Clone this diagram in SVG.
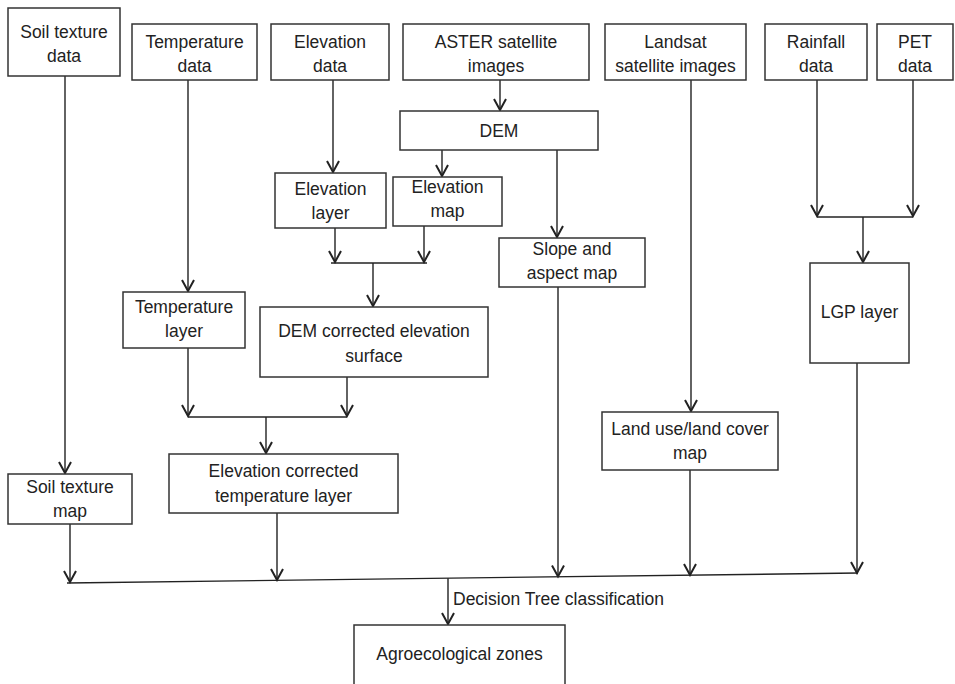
<svg xmlns="http://www.w3.org/2000/svg" width="955" height="684" viewBox="0 0 955 684">
<defs>
<marker id="ah" markerUnits="userSpaceOnUse" markerWidth="16" markerHeight="16" viewBox="-14 -8 16 16" refX="0" refY="0" orient="auto">
<path d="M-11,-6 L0,0 L-11,6" fill="none" stroke="#222" stroke-width="2"/>
</marker>
<style>
rect{fill:#fff;stroke:#333;stroke-width:1.5}
text{font-family:"Liberation Sans",Arial,sans-serif;font-size:17.5px;fill:#222;text-anchor:middle}
.c line,.c polyline{stroke:#222;stroke-width:1.4;fill:none}
.a{marker-end:url(#ah)}
</style>
</defs>
<rect x="0" y="0" width="955" height="684" style="fill:#fff;stroke:none"/>
<g class="c" id="connectors">
<line class="a" x1="65" y1="76" x2="65" y2="473"/>
<line class="a" x1="188" y1="80" x2="188" y2="291"/>
<line class="a" x1="333" y1="80" x2="333" y2="172"/>
<line class="a" x1="500" y1="80" x2="500" y2="110"/>
<line class="a" x1="442" y1="150" x2="442" y2="176"/>
<line class="a" x1="557" y1="150" x2="557" y2="237"/>
<line class="a" x1="335" y1="228" x2="335" y2="262"/>
<line class="a" x1="424" y1="226" x2="424" y2="262"/>
<line x1="331" y1="263" x2="427" y2="263"/>
<line class="a" x1="373" y1="263" x2="373" y2="306"/>
<line class="a" x1="188" y1="348" x2="188" y2="416"/>
<line class="a" x1="347" y1="377" x2="347" y2="416"/>
<line x1="188" y1="417" x2="347" y2="417"/>
<line class="a" x1="266" y1="417" x2="266" y2="453"/>
<line class="a" x1="691" y1="80" x2="691" y2="411"/>
<line class="a" x1="817" y1="80" x2="817" y2="216"/>
<line class="a" x1="913" y1="80" x2="913" y2="216"/>
<line x1="817" y1="217" x2="913" y2="217"/>
<line class="a" x1="863" y1="217" x2="863" y2="262"/>
<line class="a" x1="70" y1="524" x2="70" y2="582"/>
<line class="a" x1="277" y1="513" x2="277" y2="580"/>
<line class="a" x1="558" y1="287" x2="558" y2="576.5"/>
<line class="a" x1="690" y1="470" x2="690" y2="575"/>
<line class="a" x1="857" y1="363" x2="857" y2="573"/>
<line x1="67" y1="583" x2="858" y2="573"/>
<line class="a" x1="448" y1="578.2" x2="448" y2="624"/>
</g>
<g id="soil-texture-data"><rect x="8" y="8" width="112" height="68"/><text x="64" y="38">Soil texture</text><text x="64" y="62">data</text></g>
<g id="temperature-data"><rect x="132" y="24" width="125" height="56"/><text x="194.5" y="48">Temperature</text><text x="194.5" y="72">data</text></g>
<g id="elevation-data"><rect x="271" y="24" width="118" height="56"/><text x="330" y="48">Elevation</text><text x="330" y="72">data</text></g>
<g id="aster"><rect x="403" y="24" width="186" height="56"/><text x="496" y="48">ASTER satellite</text><text x="496" y="72">images</text></g>
<g id="landsat"><rect x="605" y="24" width="141" height="56"/><text x="675.5" y="48">Landsat</text><text x="675.5" y="72">satellite images</text></g>
<g id="rainfall"><rect x="765" y="24" width="102" height="56"/><text x="816" y="48">Rainfall</text><text x="816" y="72">data</text></g>
<g id="pet"><rect x="877" y="24" width="76" height="56"/><text x="915" y="48">PET</text><text x="915" y="72">data</text></g>
<g id="dem"><rect x="400" y="111" width="198" height="39"/><text x="499" y="137">DEM</text></g>
<g id="elevation-layer"><rect x="275" y="173" width="111" height="55"/><text x="330.5" y="195">Elevation</text><text x="330.5" y="219">layer</text></g>
<g id="elevation-map"><rect x="393" y="177" width="109" height="49"/><text x="447.5" y="193">Elevation</text><text x="447.5" y="217">map</text></g>
<g id="slope"><rect x="499" y="238" width="146" height="49"/><text x="572" y="255">Slope and</text><text x="572" y="279">aspect map</text></g>
<g id="lgp"><rect x="810" y="263" width="99" height="100"/><text x="859.5" y="318">LGP layer</text></g>
<g id="temperature-layer"><rect x="123" y="292" width="122" height="56"/><text x="184" y="313">Temperature</text><text x="184" y="337">layer</text></g>
<g id="dem-corrected"><rect x="260" y="307" width="228" height="70"/><text x="374" y="337">DEM corrected elevation</text><text x="374" y="362">surface</text></g>
<g id="land-use"><rect x="602" y="412" width="176" height="58"/><text x="690" y="435">Land use/land cover</text><text x="690" y="459">map</text></g>
<g id="elev-corrected-temp"><rect x="169" y="454" width="229" height="59"/><text x="283.5" y="477">Elevation corrected</text><text x="283.5" y="502">temperature layer</text></g>
<g id="soil-texture-map"><rect x="8" y="474" width="124" height="50"/><text x="70" y="493">Soil texture</text><text x="70" y="517">map</text></g>
<g id="decision-label"><text x="453" y="605" style="text-anchor:start">Decision Tree classification</text></g>
<g id="agroecological-zones"><rect x="354" y="625" width="211" height="70"/><text x="459.5" y="660">Agroecological zones</text></g>
</svg>
